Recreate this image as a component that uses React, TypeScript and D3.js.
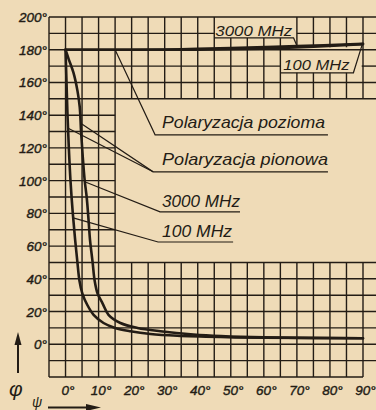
import React from 'react';
import * as d3 from 'd3';

const W = 376;
const H = 410;

// psi (deg) vs phi (deg)
const poziom3000: [number, number][] = [[0, 180], [20, 180], [35, 180.3], [50, 181], [70, 182.2], [90, 183.6]];
const poziom100: [number, number][] = [[0, 180], [30, 180], [45, 180.1], [60, 180.7], [75, 181.8], [90, 183.4]];
const pion100: [number, number][] = [
  [0, 180], [0.3, 160], [0.6, 140], [1.0, 120], [1.5, 100], [2.2, 80], [2.9, 64], [3.6, 50],
  [4.2, 39], [5.1, 31], [6.6, 24], [8.5, 18], [11.5, 13], [15, 10], [19.6, 8], [25.7, 6.3],
  [33.8, 5.2], [47, 4.4], [60, 4], [90, 3.7],
];
const pion3000: [number, number][] = [
  [0, 180], [1, 174], [2.4, 166], [3.6, 155], [4.3, 145], [4.7, 130], [5.2, 115], [5.8, 100],
  [6.4, 90], [7.0, 75], [7.4, 64], [8.2, 50], [8.8, 39], [9.7, 31], [11.2, 25], [13, 18],
  [16.6, 13], [21.8, 10], [28.7, 8], [38.7, 6], [47, 5], [60, 4.2], [90, 3.7],
];

const xTicks = [0, 10, 20, 30, 40, 50, 60, 70, 80, 90];
const yTicks = [0, 20, 40, 60, 80, 100, 120, 140, 160, 180, 200];

// annotations: label text, text anchor point, text width (deg of psi), size, leader polylines
const notes = [
  { text: 'Polaryzacja pozioma', at: [29.2, 132.2], w: 49.3, size: 17, leaders: [[[15, 180], [27.1, 128], [79.4, 128]]] },
  { text: 'Polaryzacja pionowa', at: [29.2, 109.6], w: 50.2, size: 17, leaders: [[[0.8, 132], [26.5, 105.4]], [[4.6, 135], [26.5, 105.4], [79.4, 105.4]]] },
  { text: '3000 MHz', at: [29.2, 84], w: 23.6, size: 17, leaders: [[[6.2, 99], [28.6, 80.9], [52.8, 80.9]]] },
  { text: '100 MHz', at: [29.2, 65.6], w: 21.2, size: 17, leaders: [[[2.3, 77.2], [28, 62.5], [50.7, 62.5]]] },
  { text: '3000 MHz', at: [45.3, 188.6], w: 23.3, size: 15.5, leaders: [[[45, 187.2], [69, 187.2], [70, 182.4]]] },
  { text: '100 MHz', at: [65.9, 167.8], w: 20, size: 15.5, leaders: [[[65, 165.9], [87.1, 165.9], [89.8, 183.4]]] },
];

const ink = '#231c15';
const paper = '#efdbb7';

function cut(lo: number, hi: number, gaps: [number, number][]) {
  let segs: [number, number][] = [[lo, hi]];
  gaps.forEach(([a, b]) => {
    const next: [number, number][] = [];
    segs.forEach(([s, e]) => {
      if (b <= s || a >= e) { next.push([s, e]); return; }
      if (a > s) next.push([s, a]);
      if (b < e) next.push([b, e]);
    });
    segs = next;
  });
  return segs;
}

export default function App() {
  const x = d3.scaleLinear().domain([-5, 90]).range([49, 363]);
  const y = d3.scaleLinear().domain([-20, 200]).range([377, 17]);
  const xEnd = x.invert(W);

  const line = d3.line<[number, number]>()
    .x((d) => x(d[0]))
    .y((d) => y(d[1]))
    .curve(d3.curveCatmullRom.alpha(0.5));
  const poly = d3.line<number[]>().x((d) => x(d[0])).y((d) => y(d[1]));

  const vLines = d3.range(-5, 91, 5).map((v) => {
    const gaps: [number, number][] = [];
    if (v > 15) gaps.push([50, 150]);
    if (v > 45 && v < 70) gaps.push([187.2, 200]);
    if (v > 65 && v < 90) gaps.push([165.9, 181.5]);
    return cut(-20, 200, gaps).map(([a, b]) => ({ x1: v, x2: v, y1: a, y2: b }));
  }).flat();

  const hLines = d3.range(-20, 201, 10).map((h) => {
    const end = h === -20 ? 90 : xEnd;
    const gaps: [number, number][] = [];
    if (h > 50 && h < 150) gaps.push([15, end]);
    if (h === 190) gaps.push([45, 70]);
    if (h === 170) gaps.push([65, 89.6]);
    return cut(-5, end, gaps).map(([a, b]) => ({ x1: a, x2: b, y1: h, y2: h }));
  }).flat();

  const font = '"Liberation Sans", "DejaVu Sans", sans-serif';

  return (
    <svg width={W} height={H} style={{ position: 'absolute', left: 0, top: 0, display: 'block' }}>
      <rect width={W} height={H} fill={paper} />
      <g stroke={ink} strokeWidth={1.4}>
        {vLines.concat(hLines).map((s, i) => (
          <line key={i} x1={x(s.x1)} x2={x(s.x2)} y1={y(s.y1)} y2={y(s.y2)} />
        ))}
      </g>
      <g fill="none" stroke={ink} strokeWidth={2.6} strokeLinecap="round">
        <path d={line(poziom3000) || ''} />
        <path d={line(poziom100) || ''} />
        <path d={line(pion100) || ''} />
        <path d={line(pion3000) || ''} />
      </g>
      <g fill="none" stroke={ink} strokeWidth={1.2}>
        {notes.map((n, i) => n.leaders.map((l, j) => <path key={i + '-' + j} d={poly(l) || ''} />))}
      </g>
      <g fill={ink} fontFamily={font} fontStyle="italic">
        {notes.map((n, i) => (
          <text key={i} x={x(n.at[0])} y={y(n.at[1])} fontSize={n.size}
            textLength={x(n.at[0] + n.w) - x(n.at[0])} lengthAdjust="spacingAndGlyphs">{n.text}</text>
        ))}
      </g>
      <g fill={ink} stroke={ink} strokeWidth={0.4} fontFamily={font} fontStyle="italic" fontSize={13.5}>
        {xTicks.map((t) => (
          <text key={t} x={x(t) + 2.5} y={y.range()[0] + 18} textAnchor="middle">{t}°</text>
        ))}
        {yTicks.map((t) => (
          <text key={t} x={47} y={y(t) + 5} textAnchor="end">{t}°</text>
        ))}
      </g>
      <g fill={ink} stroke={ink}>
        <line x1={18} x2={18} y1={373} y2={342} strokeWidth={2} />
        <path d="M18,332 L14.5,345 L21.5,345 Z" stroke="none" />
        <line x1={48} x2={88} y1={407.5} y2={407.5} strokeWidth={2} />
        <path d="M101,407.5 L86,404 L86,411 Z" stroke="none" />
      </g>
      <g fill={ink} fontFamily={font} fontStyle="italic">
        <text x={9} y={396} fontSize={21}>φ</text>
        <text x={32} y={407} fontSize={14}>ψ</text>
      </g>
    </svg>
  );
}
